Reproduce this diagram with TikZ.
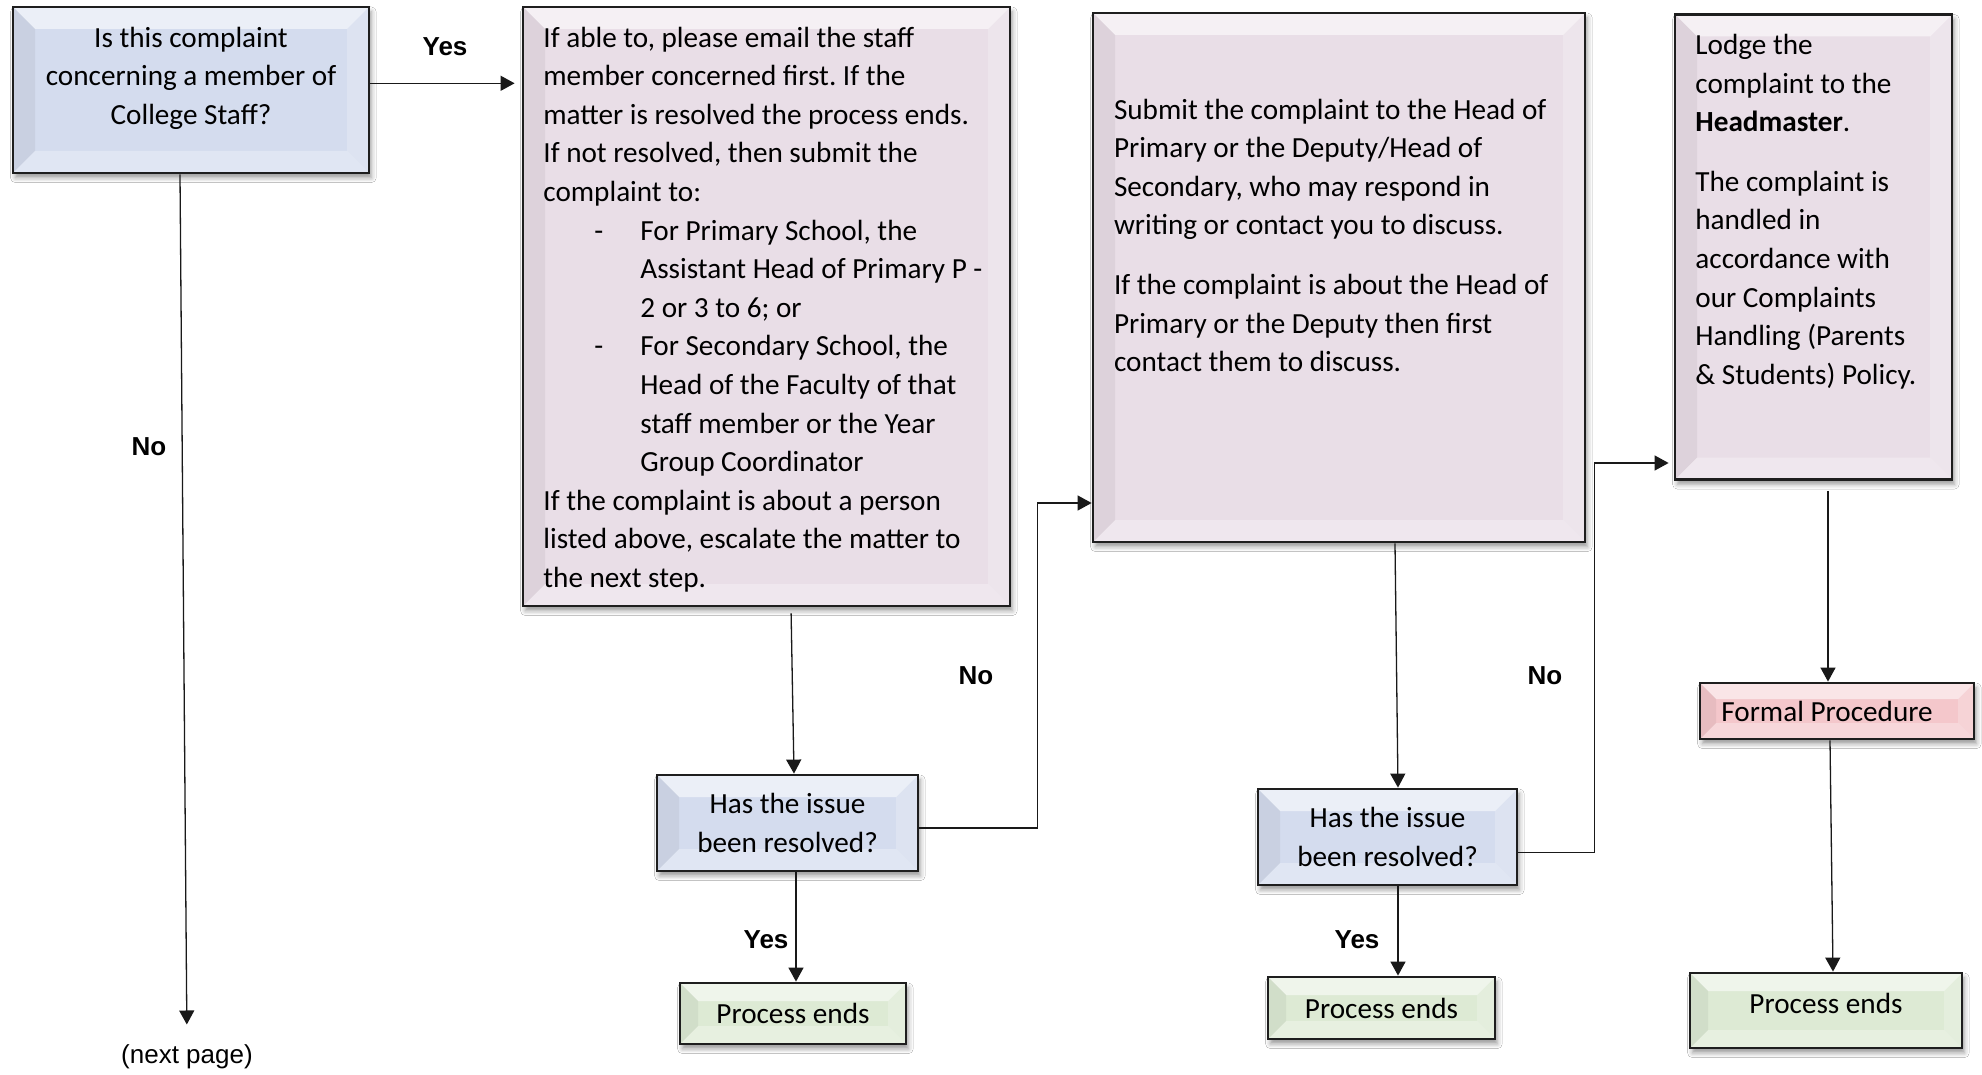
\documentclass[tikz,border=0pt]{standalone}
\usepackage{fontspec}
\setmainfont{Carlito}
\newfontfamily\labfont{Liberation Sans}
\usetikzlibrary{arrows.meta,shadows.blur}
\frenchspacing
\definecolor{qblue}{RGB}{212,220,238}
\definecolor{boxpink}{RGB}{233,222,231}
\definecolor{formalpink}{RGB}{244,199,203}
\definecolor{endgreen}{RGB}{221,234,212}
\definecolor{edgecol}{RGB}{30,30,30}
\definecolor{wirecol}{RGB}{25,25,25}
\newcommand\bevelfaces{%
  \path (path picture bounding box.north west) coordinate (bvNW)
        (path picture bounding box.north east) coordinate (bvNE)
        (path picture bounding box.south west) coordinate (bvSW)
        (path picture bounding box.south east) coordinate (bvSE);
  \fill[white,opacity=.55] (bvNW) -- (bvNE) -- ([xshift=-\bevelsize,yshift=-\bevelsize]bvNE) -- ([xshift=\bevelsize,yshift=-\bevelsize]bvNW) -- cycle;
  \fill[white,opacity=.3] (bvSW) -- (bvSE) -- ([xshift=-\bevelsize,yshift=\bevelsize]bvSE) -- ([xshift=\bevelsize,yshift=\bevelsize]bvSW) -- cycle;
  \fill[black,opacity=.05] (bvNW) -- ([xshift=\bevelsize,yshift=-\bevelsize]bvNW) -- ([xshift=\bevelsize,yshift=\bevelsize]bvSW) -- (bvSW) -- cycle;
  \fill[white,opacity=.22] (bvNE) -- (bvSE) -- ([xshift=-\bevelsize,yshift=\bevelsize]bvSE) -- ([xshift=-\bevelsize,yshift=-\bevelsize]bvNE) -- cycle;
}
\newcommand\dashitem[1]{\makebox[48.5pt][l]{\hspace*{25.5pt}-}#1}
\tikzset{
  bevel/.store in=\bevelsize, bevel=11pt,
  bevelbox/.style={rectangle, draw=edgecol, line width=1.4pt, inner sep=0pt,
    font=\fontsize{14.6}{19.3}\selectfont, align=center,
    blur shadow={shadow xshift=1.2pt, shadow yshift=-2.4pt, shadow blur radius=2.4pt, shadow opacity=40},
    path picture={\bevelfaces}},
  qbox/.style={bevelbox, fill=qblue},
  bigbox/.style={bevelbox, fill=boxpink},
  endbox/.style={bevelbox, fill=endgreen, bevel=9pt},
  formalbox/.style={bevelbox, fill=formalpink, bevel=8pt},
  txt/.style={inner sep=0pt, font=\fontsize{14.6}{19.3}\selectfont},
  lab/.style={inner sep=0pt, font=\labfont\bfseries\fontsize{13}{15}\selectfont},
  wire/.style={draw=wirecol, line width=0.65pt},
  arr/.style={wire, -{Triangle[length=7pt,width=7.5pt]}}
}
\begin{document}
\begin{tikzpicture}[x=0.5pt,y=-0.5pt]
\path[use as bounding box, fill=white] (0,0) rectangle (1982,1075);

% boxes
\node[qbox, minimum width=178pt, minimum height=83pt] (b1) at (191,90) {};
\node[txt, align=center, anchor=north] (t1) at (191,20.7)
  {\rule{0pt}{13pt}Is this complaint\\concerning a member of\\College Staff?};

\node[bigbox, minimum width=243.5pt, minimum height=299.5pt] (b2) at (766.5,306.5) {};
\node[txt, align=left, anchor=north west] (t2) at (543,20.7)
  {\rule{0pt}{13pt}If able to, please email the staff\\
   member concerned first. If the\\
   matter is resolved the process ends.\\
   If not resolved, then submit the\\
   complaint to:\\
   \dashitem{For Primary School, the}\\
   \hspace*{48.5pt}Assistant Head of Primary P -\\
   \hspace*{48.5pt}2 or 3 to 6; or\\
   \dashitem{For Secondary School, the}\\
   \hspace*{48.5pt}Head of the Faculty of that\\
   \hspace*{48.5pt}staff member or the Year\\
   \hspace*{48.5pt}Group Coordinator\\
   If the complaint is about a person\\
   listed above, escalate the matter to\\
   the next step.};

\node[bigbox, minimum width=246pt, minimum height=264.5pt] (b3) at (1339,277.5) {};
\node[txt, align=left, anchor=north west] (t3) at (1113.6,92.7)
  {\rule{0pt}{13pt}Submit the complaint to the Head of\\
   Primary or the Deputy/Head of\\
   Secondary, who may respond in\\
   writing or contact you to discuss.\\[10.5pt]
   If the complaint is about the Head of\\
   Primary or the Deputy then first\\
   contact them to discuss.};

\node[bigbox, minimum width=138.5pt, minimum height=232.5pt] (b4) at (1813.5,247) {};
\node[txt, align=left, anchor=north west] (t4) at (1695,28.2)
  {\rule{0pt}{13pt}Lodge the\\
   complaint to the\\
   \textbf{Headmaster}.\\[10.5pt]
   The complaint is\\
   handled in\\
   accordance with\\
   our Complaints\\
   Handling (Parents\\
   \& Students) Policy.};

\node[qbox, minimum width=130.5pt, minimum height=48pt] (q2) at (787.5,823) {Has the issue\\been resolved?};
\node[qbox, minimum width=129.5pt, minimum height=48pt] (q3) at (1387.5,837) {Has the issue\\been resolved?};
\node[endbox, minimum width=113pt, minimum height=30.5pt] (e1) at (793,1013.5) {Process ends};
\node[endbox, minimum width=113.5pt, minimum height=31pt] (e2) at (1381.5,1008) {Process ends};
\node[formalbox, minimum width=137pt, minimum height=28pt] (fp) at (1837,711) {Formal Procedure\hspace*{10pt}};
\node[endbox, minimum width=136pt, minimum height=37.5pt, text depth=7.5pt] (e3) at (1826,1010.5) {Process ends};

% labels
\node[lab] (y1) at (445,47) {Yes};
\node[lab] (n1) at (149,447) {No};
\node[lab] (n2) at (976,676) {No};
\node[lab] (y2) at (766,940) {Yes};
\node[lab] (n3) at (1545,676) {No};
\node[lab] (y3) at (1357,940) {Yes};
\node[inner sep=0pt, font=\labfont\fontsize{13}{15}\selectfont] (np) at (187,1057) {(next page)};

% connectors
\draw[arr, shorten >=3.5pt] ([yshift=3.35pt]b1.east) -- ([yshift=111.6pt]b2.west);
\draw[arr, shorten >=10pt] ([xshift=-5.5pt]b1.south) -- (np.north);
\draw[arr, shorten <=3pt] ([xshift=12.25pt]b2.south) -- ([xshift=3.25pt]q2.north);
\draw[arr] ([xshift=4.25pt]q2.south) -- ([xshift=1.5pt]e1.north);
\draw[arr] ([yshift=-2.5pt]q2.east) -- ++(118,0) |- ([yshift=-112.75pt]b3.west);
\draw[arr] ([xshift=28pt]b3.south) -- ([xshift=5.25pt]q3.north);
\draw[arr] ([xshift=5.25pt]q3.south) -- ([xshift=8.25pt]e2.north);
\draw[arr, shorten >=2.5pt] ([yshift=-7.75pt]q3.east) -- ++(76,0) |- ([yshift=-108pt]b4.west);
\draw[arr, shorten <=5pt] ([xshift=7.25pt]b4.south) -- ([xshift=-4.5pt]fp.north);
\draw[arr] ([xshift=-3.5pt]fp.south) -- ([xshift=3.5pt]e3.north);
\end{tikzpicture}
\end{document}
